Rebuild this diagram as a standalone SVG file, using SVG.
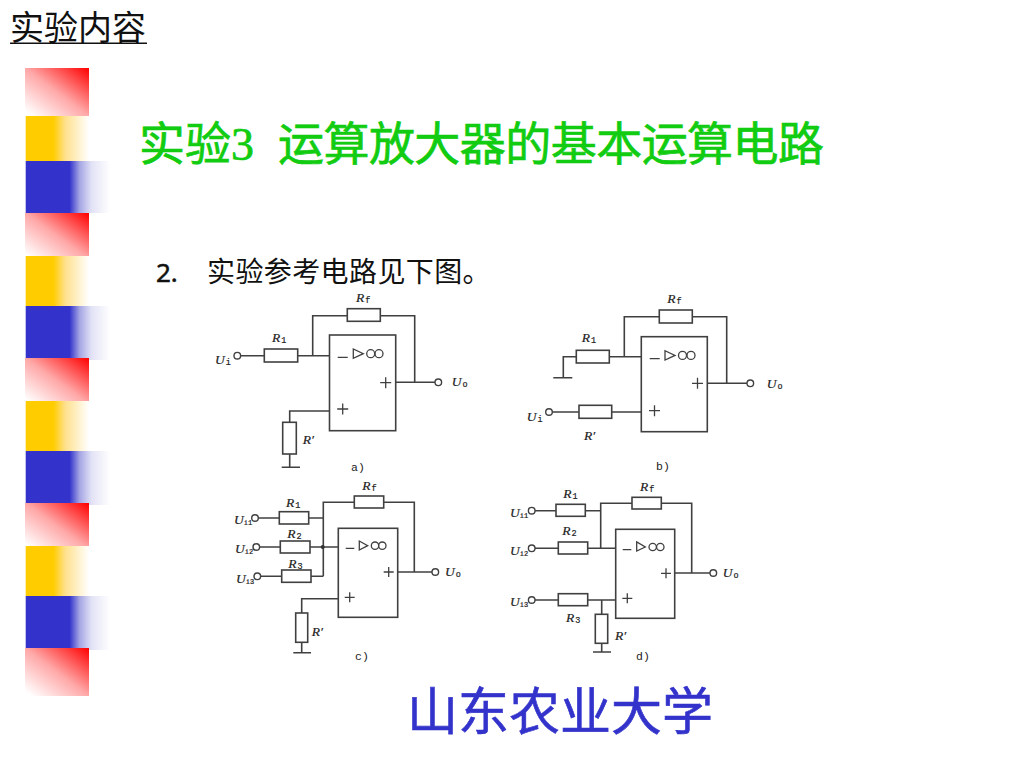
<svg xmlns="http://www.w3.org/2000/svg" width="1024" height="768" viewBox="0 0 1024 768">
<style>
.w,.r,.b,.t,.s{fill:none;stroke:#404040;stroke-width:1.6}
.t{fill:#fff;stroke-width:1.4}
.s{stroke-width:1.3}
text{font-family:"Liberation Serif","Noto Sans CJK SC",serif}
.l{font-size:13.5px;font-style:italic;fill:#222;stroke:#222;stroke-width:.2}
.u{font-size:8.5px;font-style:normal;font-family:"Liberation Mono",monospace}
.v{font-size:7px;font-style:normal;font-family:"Liberation Mono",monospace}
.c{font-size:11.5px;fill:#222;font-family:"Liberation Mono",monospace}
</style>
<defs>
<linearGradient id="gr" x1="1" y1="0" x2="0" y2="1"><stop offset="0" stop-color="#f00"/><stop offset=".5" stop-color="#ffa8a8"/><stop offset=".95" stop-color="#fff"/></linearGradient>
<linearGradient id="gg"><stop offset="0" stop-color="#fc0"/><stop offset=".44" stop-color="#fc0"/><stop offset=".62" stop-color="#ffe08a"/><stop offset="1" stop-color="#fff"/></linearGradient>
<linearGradient id="gb"><stop offset="0" stop-color="#33c"/><stop offset=".52" stop-color="#33c"/><stop offset=".64" stop-color="#a5a5e4"/><stop offset=".78" stop-color="#e2e2f6"/><stop offset="1" stop-color="#fff"/></linearGradient>
</defs>
<rect width="1024" height="768" fill="#fff"/>
<g id="sidebar">
<rect x="25" y="68" width="64" height="48" fill="url(#gr)"/>
<rect x="25.700" y="116" width="63.300" height="45" fill="url(#gg)"/>
<rect x="25.700" y="161" width="84.300" height="52" fill="url(#gb)"/>
<rect x="25" y="213" width="64" height="46" fill="url(#gr)"/>
<rect x="25.700" y="256" width="63.300" height="50" fill="url(#gg)"/>
<rect x="25.700" y="306" width="84.300" height="54" fill="url(#gb)"/>
<rect x="25" y="358" width="64" height="46" fill="url(#gr)"/>
<rect x="25.700" y="401" width="63.300" height="50" fill="url(#gg)"/>
<rect x="25.700" y="451" width="84.300" height="54" fill="url(#gb)"/>
<rect x="25" y="503" width="64" height="46" fill="url(#gr)"/>
<rect x="25.700" y="546" width="63.300" height="50" fill="url(#gg)"/>
<rect x="25.700" y="596" width="84.300" height="54" fill="url(#gb)"/>
<rect x="25" y="648" width="64" height="48" fill="url(#gr)"/>
</g>
<g id="heading">
<text x="10" y="40" font-size="34" fill="#111">实验内容</text>
<rect x="10" y="42.500" width="137" height="1.500" fill="#111"/>
</g>
<text id="title" y="160" font-size="46" fill="#11cc11" stroke="#11cc11" stroke-width=".7"><tspan x="139">实验3</tspan><tspan x="278" textLength="546">运算放大器的基本运算电路</tspan></text>
<text id="line2" y="282" fill="#111"><tspan x="156" font-size="26" stroke="#111" stroke-width=".5" style="font-family:'Noto Sans',sans-serif">2.</tspan><tspan x="207" font-size="28" letter-spacing=".4">实验参考电路见下图。</tspan></text>
<text id="school" x="407" y="730" font-size="51" fill="#3333cc" stroke="#3333cc" stroke-width=".6">山东农业大学</text>
<g id="connectors" class="w">
<path class="w" d="M240.600 355.700H264.300M297.700 355.700H329.500M312.700 355.700V315.700H347.300M380.300 315.700H414.700V382.300M395.700 382.300H435M329.500 411H289.700V422.300M289.700 454V467.300M281.700 467.300H300"/>
<path class="w" d="M563.300 377.700V356.700H576.300M553.300 377.700H572.300M609.300 356.700H641.300M624.300 356.700V316.700H659.300M692.300 316.700H726.700V383.300M707.300 383.300H747M552.300 412H579M611.700 412H641.300"/>
<path class="w" d="M258.300 518H279.300M308.700 518H323.300M323.300 576.300V502.300H354.300M383.700 502.300H414.300V572M397.700 572H432M259.600 547H280.300M310 547H338.300M260.600 576.300H281.700M311 576.300H323.300M338.300 598.700H301.700V613M301.700 642.300V652.700M293.300 652.700H311"/>
<path class="w" d="M535 510.700H556M585.300 510.700H600.700M600.700 548.300V503.300H632M661.300 503.300H691.700V573M674.700 573H710M535 548.300H558.300M587.700 548.300H615.700M535 600H558.300M587.700 600H615.700M601.700 600V614.300M601.700 643.300V652M593 652H611"/>
<circle cx="322.700" cy="547" r="2" fill="#333" stroke="none"/>
</g>
<g id="amp-a"><rect class="b" x="329.500" y="335" width="66.200" height="95.700"/><path class="s" d="M337.700 357.300H347.700M353.300 349V358.300L363.300 353.700ZM337.200 409H348.200M342.700 403.500V414.500M380.200 382.700H391.200M385.700 377.200V388.200"/><circle class="s" cx="370.700" cy="353.700" r="4"/><circle class="s" cx="379" cy="353.700" r="4"/></g>
<g id="r1-a"><rect class="r" x="264.300" y="349" width="33.400" height="13"/><text class="l" x="272" y="341.700">R<tspan class="u" dx="1" dy="1">1</tspan></text></g>
<g id="rf-a"><rect class="r" x="347.300" y="308.700" width="33" height="12.600"/><text class="l" x="356" y="301.700">R<tspan class="u" dx="1" dy="1">f</tspan></text></g>
<g id="rp-a"><rect class="r" x="282.700" y="422.300" width="13.600" height="31.700"/><text class="l" x="302.700" y="444">R′</text></g>
<g id="ui-a"><circle class="t" cx="237.300" cy="355.700" r="3.300"/><text class="l" x="215" y="364">U<tspan class="u" dx="1" dy="1">i</tspan></text></g>
<g id="uo-a"><circle class="t" cx="438.300" cy="382.300" r="3.300"/><text class="l" x="451.700" y="386">U<tspan class="u" dx="1" dy="1">o</tspan></text></g>
<text id="cap-a" class="c" x="351" y="471">a)</text>
<g id="amp-b"><rect class="b" x="641.300" y="336.700" width="66" height="95"/><path class="s" d="M649.700 358.700H659.700M665 350.700V360L675 355.400ZM649 410.700H660M654.500 405.200V416.200M692 383.300H703M697.500 377.800V388.800"/><circle class="s" cx="682.500" cy="355.400" r="4"/><circle class="s" cx="691" cy="355.400" r="4"/></g>
<g id="r1-b"><rect class="r" x="576.300" y="350.300" width="33" height="12.700"/><text class="l" x="581.700" y="342.300">R<tspan class="u" dx="1" dy="1">1</tspan></text></g>
<g id="rf-b"><rect class="r" x="659.300" y="310" width="33" height="13"/><text class="l" x="667.300" y="303.300">R<tspan class="u" dx="1" dy="1">f</tspan></text></g>
<g id="rp-b"><rect class="r" x="579" y="405.300" width="32.700" height="13"/><text class="l" x="584" y="440">R′</text></g>
<g id="ui-b"><circle class="t" cx="549" cy="412" r="3.300"/><text class="l" x="526.700" y="421">U<tspan class="u" dx="1" dy="1">i</tspan></text></g>
<g id="uo-b"><circle class="t" cx="750.300" cy="383.300" r="3.300"/><text class="l" x="766.700" y="388">U<tspan class="u" dx="1" dy="1">o</tspan></text></g>
<text id="cap-b" class="c" x="656" y="470">b)</text>
<g id="amp-c"><rect class="b" x="338.300" y="528.300" width="59.400" height="89"/><path class="s" d="M345.700 548.300H354.300M359.300 541V550L367.700 545.700ZM344.700 597.300H354.700M349.700 592.300V602.300M383.700 572H393.700M388.700 567V577"/><circle class="s" cx="375" cy="545.700" r="3.700"/><circle class="s" cx="382.300" cy="545.700" r="3.700"/></g>
<g id="r1-c"><rect class="r" x="279.300" y="511.700" width="29.400" height="12.300"/><text class="l" x="286" y="506.700">R<tspan class="u" dx="1" dy="1">1</tspan></text></g>
<g id="r2-c"><rect class="r" x="280.300" y="541" width="29.700" height="12"/><text class="l" x="287.300" y="538">R<tspan class="u" dx="1" dy="1">2</tspan></text></g>
<g id="r3-c"><rect class="r" x="281.700" y="570" width="29.300" height="12.300"/><text class="l" x="288.300" y="567.700">R<tspan class="u" dx="1" dy="1">3</tspan></text></g>
<g id="rf-c"><rect class="r" x="354.300" y="496" width="29.400" height="12"/><text class="l" x="362.300" y="490">R<tspan class="u" dx="1" dy="1">f</tspan></text></g>
<g id="rp-c"><rect class="r" x="295.700" y="613" width="12" height="29.300"/><text class="l" x="311.700" y="635.700">R′</text></g>
<g id="ui1-c"><circle class="t" cx="255" cy="518" r="3.300"/><text class="l" x="234" y="524">U<tspan class="v" dy="1">i1</tspan></text></g>
<g id="ui2-c"><circle class="t" cx="256.300" cy="547" r="3.300"/><text class="l" x="235" y="553">U<tspan class="v" dy="1">i2</tspan></text></g>
<g id="ui3-c"><circle class="t" cx="257.300" cy="576.300" r="3.300"/><text class="l" x="236" y="582.500">U<tspan class="v" dy="1">i3</tspan></text></g>
<g id="uo-c"><circle class="t" cx="435.300" cy="572" r="3.300"/><text class="l" x="445" y="576">U<tspan class="u" dx="1" dy="1">o</tspan></text></g>
<text id="cap-c" class="c" x="355" y="660">c)</text>
<g id="amp-d"><rect class="b" x="615.700" y="529.300" width="59" height="89"/><path class="s" d="M622.700 549.700H631.300M636.700 542V551L645.300 547ZM622.300 598.300H632.300M627.300 593.300V603.300M661 573.300H671M666 568.300V578.300"/><circle class="s" cx="652.700" cy="547" r="3.700"/><circle class="s" cx="660.300" cy="547" r="3.700"/></g>
<g id="r1-d"><rect class="r" x="556" y="504.300" width="29.300" height="12"/><text class="l" x="563.300" y="497.700">R<tspan class="u" dx="1" dy="1">1</tspan></text></g>
<g id="r2-d"><rect class="r" x="558.300" y="542" width="29.400" height="12"/><text class="l" x="562.300" y="535">R<tspan class="u" dx="1" dy="1">2</tspan></text></g>
<g id="r3-d"><rect class="r" x="558.300" y="593.700" width="29.400" height="12"/><text class="l" x="566" y="622.300">R<tspan class="u" dx="1" dy="1">3</tspan></text></g>
<g id="rf-d"><rect class="r" x="632" y="497.300" width="29.300" height="11.700"/><text class="l" x="640" y="490.700">R<tspan class="u" dx="1" dy="1">f</tspan></text></g>
<g id="rp-d"><rect class="r" x="595.300" y="614.300" width="12.400" height="29"/><text class="l" x="615" y="640">R′</text></g>
<g id="ui1-d"><circle class="t" cx="531.700" cy="510.700" r="3.300"/><text class="l" x="510" y="517">U<tspan class="v" dy="1">i1</tspan></text></g>
<g id="ui2-d"><circle class="t" cx="531.700" cy="548.300" r="3.300"/><text class="l" x="510" y="554.500">U<tspan class="v" dy="1">i2</tspan></text></g>
<g id="ui3-d"><circle class="t" cx="531.700" cy="600" r="3.300"/><text class="l" x="510" y="606">U<tspan class="v" dy="1">i3</tspan></text></g>
<g id="uo-d"><circle class="t" cx="713.300" cy="573" r="3.300"/><text class="l" x="722.700" y="577.300">U<tspan class="u" dx="1" dy="1">o</tspan></text></g>
<text id="cap-d" class="c" x="636" y="660">d)</text>
</svg>
